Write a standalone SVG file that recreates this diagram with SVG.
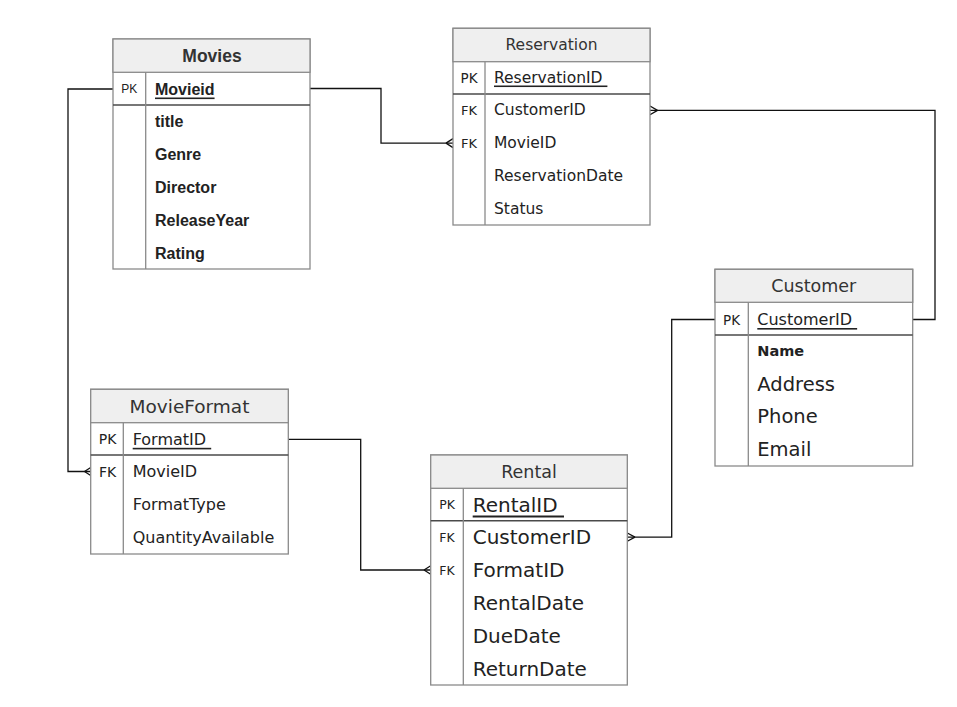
<svg xmlns="http://www.w3.org/2000/svg" width="957" height="707" viewBox="0 0 957 707">
<style>
.box{fill:#ffffff;stroke:#8a8a8a;stroke-width:1.3}
.hdr{fill:#efefef;stroke:#8a8a8a;stroke-width:1.3}
.sep{stroke:#8a8a8a;stroke-width:1.3}
.pksep{stroke:#4a4a4a;stroke-width:1.6}
.conn{fill:none;stroke:#111111;stroke-width:1.3}
text{fill:#222222;dominant-baseline:central}
.dv{font-family:"DejaVu Sans","Noto Sans",sans-serif}
.lb{font-family:"Liberation Sans",Arial,sans-serif;font-weight:bold}
.key{text-anchor:middle}
.title{text-anchor:middle;fill:#333333}
.u{text-decoration:underline;white-space:pre}
</style>

<g id="connectors">
  <path class="conn" d="M113,89 H68 V471.5 H90.7"/>
  <path class="conn" d="M84.5,471.5 L90.7,467.5 M84.5,471.5 L90.7,475.5"/>
  <path class="conn" d="M310,88.5 H381 V143.1 H453"/>
  <path class="conn" d="M446,143.1 L453,138.6 M446,143.1 L453,147.6"/>
  <path class="conn" d="M650,110.4 H935 V319.5 H912.7"/>
  <path class="conn" d="M657.5,110.4 L650,106 M657.5,110.4 L650,114.8"/>
  <path class="conn" d="M715,319.5 H671.7 V537.1 H627.3"/>
  <path class="conn" d="M635,537.1 L627.3,533 M635,537.1 L627.3,541.2"/>
  <path class="conn" d="M288.3,439.3 H360.7 V570 H430.7"/>
  <path class="conn" d="M424,570 L430.7,565.8 M424,570 L430.7,574.2"/>
</g>

<g id="movies">
  <rect class="box" x="113" y="39" width="197" height="230"/>
  <rect class="hdr" x="113" y="39" width="197" height="33.3"/>
  <line class="pksep" x1="113" y1="105" x2="310" y2="105"/>
  <line class="sep" x1="145.7" y1="72.3" x2="145.7" y2="269"/>
  <text class="lb title" x="212" y="56" font-size="17.5">Movies</text>
  <text class="lb key" x="129.3" y="89" font-size="12" font-weight="normal" style="font-weight:normal">PK</text>
  <text class="lb u" x="155" y="89" font-size="16">Movieid</text>
  <text class="lb" x="155" y="121.5" font-size="16">title</text>
  <text class="lb" x="155" y="154.5" font-size="16">Genre</text>
  <text class="lb" x="155" y="187.5" font-size="16">Director</text>
  <text class="lb" x="155" y="220.5" font-size="16">ReleaseYear</text>
  <text class="lb" x="155" y="253.5" font-size="16">Rating</text>
</g>

<g id="reservation">
  <rect class="box" x="453" y="28.3" width="197" height="196.7"/>
  <rect class="hdr" x="453" y="28.3" width="197" height="33.4"/>
  <line class="pksep" x1="453" y1="94" x2="650" y2="94"/>
  <line class="sep" x1="485" y1="61.7" x2="485" y2="225"/>
  <text class="dv title" x="551.5" y="45" font-size="15.5">Reservation</text>
  <text class="dv key" x="469" y="77.5" font-size="13.5">PK</text>
  <text class="dv u" x="494" y="77.5" font-size="15.5">ReservationID </text>
  <text class="dv key" x="469" y="110.4" font-size="13">FK</text>
  <text class="dv" x="494" y="110.4" font-size="15.5">CustomerID</text>
  <text class="dv key" x="469" y="143.1" font-size="13">FK</text>
  <text class="dv" x="494" y="143.1" font-size="15.5">MovieID</text>
  <text class="dv" x="494" y="175.9" font-size="15.5">ReservationDate</text>
  <text class="dv" x="494" y="208.6" font-size="15.5">Status</text>
</g>

<g id="customer">
  <rect class="box" x="715" y="269.3" width="197.7" height="196.7"/>
  <rect class="hdr" x="715" y="269.3" width="197.7" height="33"/>
  <line class="pksep" x1="715" y1="335" x2="912.7" y2="335"/>
  <line class="sep" x1="748.3" y1="302.3" x2="748.3" y2="466"/>
  <text class="dv title" x="813.8" y="286" font-size="17.5">Customer</text>
  <text class="dv key" x="731.6" y="319.5" font-size="13.5">PK</text>
  <text class="dv u" x="757.3" y="319.5" font-size="16">CustomerID </text>
  <text class="dv" x="757.3" y="351.4" font-size="14.5" font-weight="bold">Name</text>
  <text class="dv" x="757.3" y="384.1" font-size="19.5">Address</text>
  <text class="dv" x="757.3" y="416.9" font-size="19.5">Phone</text>
  <text class="dv" x="757.3" y="449.6" font-size="19.5">Email</text>
</g>

<g id="movieformat">
  <rect class="box" x="90.7" y="389.3" width="197.6" height="164.7"/>
  <rect class="hdr" x="90.7" y="389.3" width="197.6" height="33.4"/>
  <line class="pksep" x1="90.7" y1="455" x2="288.3" y2="455"/>
  <line class="sep" x1="123.3" y1="422.7" x2="123.3" y2="554"/>
  <text class="dv title" x="189.5" y="406.5" font-size="18.5">MovieFormat</text>
  <text class="dv key" x="107.5" y="439.3" font-size="14">PK</text>
  <text class="dv u" x="132.7" y="439.3" font-size="16">FormatID </text>
  <text class="dv key" x="107.5" y="471.5" font-size="14">FK</text>
  <text class="dv" x="132.7" y="471.5" font-size="16">MovieID</text>
  <text class="dv" x="132.7" y="504.5" font-size="16">FormatType</text>
  <text class="dv" x="132.7" y="537.5" font-size="16">QuantityAvailable</text>
</g>

<g id="rental">
  <rect class="box" x="430.7" y="455" width="196.6" height="230"/>
  <rect class="hdr" x="430.7" y="455" width="196.6" height="33.3"/>
  <line class="pksep" x1="430.7" y1="520.7" x2="627.3" y2="520.7"/>
  <line class="sep" x1="463.3" y1="488.3" x2="463.3" y2="685"/>
  <text class="dv title" x="529" y="472" font-size="17.5">Rental</text>
  <text class="dv key" x="447" y="504.5" font-size="12.5">PK</text>
  <text class="dv u" x="472.7" y="504.5" font-size="20">RentalID </text>
  <text class="dv key" x="447" y="537.1" font-size="12.5">FK</text>
  <text class="dv" x="472.7" y="537.1" font-size="20">CustomerID</text>
  <text class="dv key" x="447" y="570" font-size="12.5">FK</text>
  <text class="dv" x="472.7" y="570" font-size="20">FormatID</text>
  <text class="dv" x="472.7" y="602.9" font-size="20">RentalDate</text>
  <text class="dv" x="472.7" y="635.8" font-size="20">DueDate</text>
  <text class="dv" x="472.7" y="668.6" font-size="20">ReturnDate</text>
</g>
</svg>
